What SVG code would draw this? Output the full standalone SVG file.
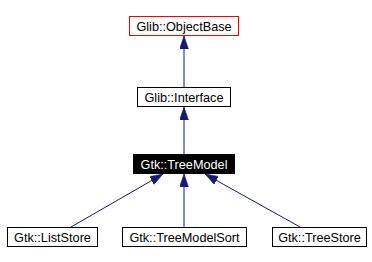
<svg xmlns="http://www.w3.org/2000/svg" width="372" height="262" viewBox="0 0 372 262">
<style>
  .box { fill: #ffffff; stroke: #000000; stroke-width: 1; }
  .root { fill: #ffffff; stroke: #ff0000; stroke-width: 1; }
  .cur { fill: #000000; stroke: #000000; stroke-width: 1; }
  .lbl { font-family: "Liberation Sans", Arial, Helvetica, sans-serif; font-size: 12.7px; fill: #000000; text-anchor: middle; }
  .lblw { fill: #ffffff; }
  .edge { stroke: #191970; stroke-width: 1; fill: none; }
</style>
<defs>
  <marker id="arr" markerUnits="userSpaceOnUse" markerWidth="14" markerHeight="10" refX="13" refY="4.5" orient="auto">
    <path d="M0,0 L13,4.5 L0,9 z" fill="#191970" stroke="#191970" stroke-width="0.5"/>
  </marker>
</defs>
<rect width="372" height="262" fill="#ffffff"/>
<g id="connectors">
  <line class="edge" x1="184" y1="87" x2="184" y2="36" marker-end="url(#arr)"/>
  <line class="edge" x1="184" y1="154" x2="184" y2="107" marker-end="url(#arr)"/>
  <line class="edge" x1="71" y1="227" x2="163" y2="174" marker-end="url(#arr)"/>
  <line class="edge" x1="184" y1="227" x2="184" y2="174" marker-end="url(#arr)"/>
  <line class="edge" x1="300" y1="227" x2="205" y2="174" marker-end="url(#arr)"/>
</g>
<g id="node-objectbase">
  <rect class="root" x="129.5" y="16.5" width="109" height="19"/>
  <text class="lbl" x="184" y="30.5">Glib::ObjectBase</text>
</g>
<g id="node-interface">
  <rect class="box" x="137.5" y="87.5" width="93" height="19"/>
  <text class="lbl" x="184" y="101.5">Glib::Interface</text>
</g>
<g id="node-treemodel">
  <rect class="cur" x="133.5" y="154.5" width="101" height="19"/>
  <text class="lbl lblw" x="184" y="168.5">Gtk::TreeModel</text>
</g>
<g id="node-liststore">
  <rect class="box" x="7.5" y="227.5" width="90" height="19"/>
  <text class="lbl" x="52.5" y="241.5">Gtk::ListStore</text>
</g>
<g id="node-treemodelsort">
  <rect class="box" x="122.5" y="227.5" width="124" height="19"/>
  <text class="lbl" x="184.5" y="241.5">Gtk::TreeModelSort</text>
</g>
<g id="node-treestore">
  <rect class="box" x="272.5" y="227.5" width="94" height="19"/>
  <text class="lbl" x="319.5" y="241.5">Gtk::TreeStore</text>
</g>
</svg>
